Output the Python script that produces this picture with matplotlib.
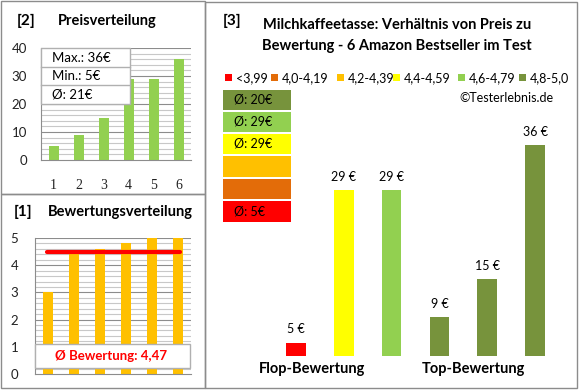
import numpy as np
import matplotlib
matplotlib.use('Agg')
import matplotlib.pyplot as plt
from matplotlib.patches import Rectangle

plt.rcParams['font.family'] = ['Lato', 'DejaVu Sans']

# data
preise = [5, 9, 15, 29, 29, 36]
bewertungen = [3.0, 4.4, 4.6, 4.8, 5.0, 5.0]
schnitt_bew = 4.47
box_texte = ['Max.: 36€', 'Min.: 5€', 'Ø: 21€']

# right panel: products sorted flop -> top
rp_preise = [5, 29, 29, 9, 15, 36]
rp_farben = ['#FF0000', '#FFFF00', '#92D050', '#77933C', '#77933C', '#77933C']
leg_labels = ['<3,99', '4,0-4,19', '4,2-4,39', '4,4-4,59', '4,6-4,79', '4,8-5,0']
leg_farben = ['#FF0000', '#E36C09', '#FFC000', '#FFFF00', '#92D050', '#77933C']
gruppen_farben = ['#77933C', '#92D050', '#FFFF00', '#FFC000', '#E36C09', '#FF0000']
gruppen_texte = ['Ø: 20€', 'Ø: 29€', 'Ø: 29€', '', '', 'Ø: 5€']

W, H = 580, 390
fig = plt.figure(figsize=(W / 100, H / 100), dpi=100)


def fx(x):
    return x / W


def fy(y):
    return 1 - y / H


def add_ax(x0, y0, x1, y1):
    # pixel coords, top-left origin
    return fig.add_axes([fx(x0), fy(y1), (x1 - x0) / W, (y1 - y0) / H])


def rect(x0, y0, x1, y1, fc='none', ec='#8C8C8C', lw=1.0, z=0):
    fig.patches.append(Rectangle((fx(x0), fy(y1)), (x1 - x0) / W, (y1 - y0) / H,
                                 transform=fig.transFigure, fc=fc, ec=ec, lw=lw, zorder=z))


# panel borders
rect(1, 1, 205, 194)
rect(1, 194, 205, 388)
rect(205, 2, 577, 388)

grid_minor = '#C8C8C8'
grid_major = '#8C8C8C'

# ---- [2] Preisverteilung ----
fig.text(fx(17), fy(21), '[2]', fontsize=11, fontweight='bold', va='center')
fig.text(fx(58), fy(21), 'Preisverteilung', fontsize=10.5, fontweight='bold', va='center')
ax1 = add_ax(41, 48, 191, 160)
x = np.arange(1, 7)
for v in np.arange(2, 41, 2):
    ax1.axhline(v, color=grid_major if v % 10 == 0 else grid_minor, lw=0.8, zorder=0)
ax1.bar(x, preise, width=0.4, color='#92D050', zorder=2)
ax1.set_xlim(0.5, 6.5)
ax1.set_ylim(0, 40)
ax1.set_yticks([0, 10, 20, 30, 40])
ax1.set_xticks(x)
ax1.tick_params(length=0, labelsize=9.5, colors='#222222')
ax1.tick_params(axis='y', pad=10)
ax1.tick_params(axis='x', pad=14)
for lab in ax1.get_xticklabels():
    lab.set_family('Liberation Serif')
    lab.set_fontsize(10)
for s in ['top', 'right']:
    ax1.spines[s].set_visible(False)
for s in ['left', 'bottom']:
    ax1.spines[s].set_color(grid_major)

# text box
rect(41, 48, 130, 104, fc='white', ec='#B0B0B0', z=5)
for i, t in enumerate(box_texte):
    y0 = 48 + i * 18.7
    if i > 0:
        fig.lines.append(plt.Line2D([fx(41), fx(130)], [fy(y0), fy(y0)],
                                    transform=fig.transFigure, color='#B0B0B0', lw=1, zorder=6))
    fig.text(fx(52), fy(y0 + 9.5), t, fontsize=9.5, va='center', zorder=7)

# ---- [1] Bewertungsverteilung ----
fig.text(fx(14), fy(212), '[1]', fontsize=11, fontweight='bold', va='center')
fig.text(fx(48), fy(212), 'Bewertungsverteilung', fontsize=10.5, fontweight='bold', va='center')
ax2 = add_ax(35, 238, 191, 374)
for v in np.arange(0.2, 5.01, 0.2):
    major = abs(v - round(v)) < 1e-6
    ax2.axhline(v, color=grid_major if major else grid_minor, lw=0.8, zorder=0)
ax2.bar(x, bewertungen, width=0.4, color='#FFC000', zorder=2)
ax2.plot([0.95, 6.08], [schnitt_bew, schnitt_bew], color='#FF0000', lw=3, zorder=3,
         solid_capstyle='round')
ax2.set_xlim(0.5, 6.5)
ax2.set_ylim(0, 5)
ax2.set_xticks([])
ax2.set_yticks(range(6))
ax2.tick_params(length=0, labelsize=9.5, colors='#222222', pad=12)
for s in ['top', 'right']:
    ax2.spines[s].set_visible(False)
for s in ['left', 'bottom']:
    ax2.spines[s].set_color(grid_major)
rect(35, 344, 190, 368, fc='white', ec='#B0B0B0', z=5)
fig.text(fx(111), fy(356), 'Ø Bewertung: 4,47', fontsize=9.5, color='#FF0000',
         fontweight='bold', ha='center', va='center', zorder=7)

# ---- [3] Preis zu Bewertung ----
fig.text(fx(223), fy(21), '[3]', fontsize=11, fontweight='bold', va='center')
fig.text(fx(397), fy(25), 'Milchkaffeetasse: Verhältnis von Preis zu', fontsize=10.5,
         fontweight='bold', ha='center', va='center')
fig.text(fx(397), fy(46), 'Bewertung - 6 Amazon Bestseller im Test', fontsize=10.5,
         fontweight='bold', ha='center', va='center')

leg_x = [225, 271, 337, 393, 458, 519]
for lx, lab, c in zip(leg_x, leg_labels, leg_farben):
    rect(lx, 74, lx + 7, 81, fc=c, ec='none', z=3)
    fig.text(fx(lx + 11), fy(78), lab, fontsize=9, va='center')
fig.text(fx(553), fy(98), '©Testerlebnis.de', fontsize=9, ha='right', va='center')

gy = [(90, 110), (112, 132), (134, 154), (156, 177), (179, 199), (201, 222)]
for (y0, y1), c, t in zip(gy, gruppen_farben, gruppen_texte):
    rect(223, y0, 291, y1, fc=c, ec='none', z=3)
    if t:
        fig.text(fx(234), fy((y0 + y1) / 2), t, fontsize=9, va='center', zorder=4)

ax3 = add_ax(257.8, 100, 563.7, 356)
xp = np.arange(len(rp_preise))
ax3.bar(xp, rp_preise, width=0.41, color=rp_farben)
ax3.set_xlim(-0.8, 5.6)
ax3.set_ylim(2.9, 43.1)
ax3.axis('off')
for xi, v in zip(xp, rp_preise):
    ax3.annotate(f'{v} €', (xi, v), xytext=(0, 9.5), textcoords='offset points',
                 ha='center', va='center', fontsize=9)
fig.text(fx(312), fy(369), 'Flop-Bewertung', fontsize=10.5, fontweight='bold',
         ha='center', va='center')
fig.text(fx(473), fy(369), 'Top-Bewertung', fontsize=10.5, fontweight='bold',
         ha='center', va='center')

fig.savefig('out.png', dpi=100)
